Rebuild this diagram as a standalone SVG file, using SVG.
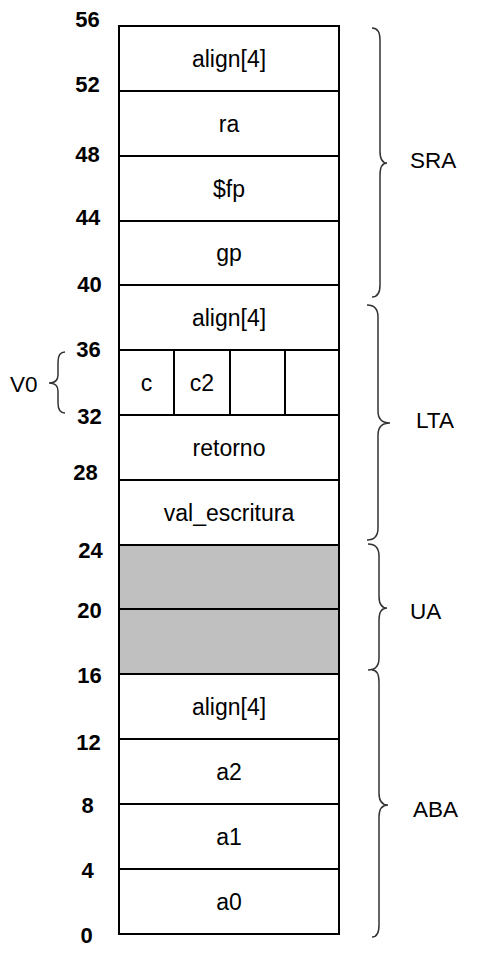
<svg xmlns="http://www.w3.org/2000/svg" width="487" height="965" viewBox="0 0 487 965">
<style>
.cell{fill:#fff;stroke:#000;stroke-width:2}
.gray{fill:#c0c0c0;stroke:#000;stroke-width:2}
.div{stroke:#000;stroke-width:2;fill:none}
.t{font-family:"Liberation Sans",Arial,sans-serif;font-size:23px;fill:#000;text-anchor:middle}
.n{font-family:"Liberation Sans",Arial,sans-serif;font-size:22px;font-weight:bold;fill:#000;text-anchor:middle}
.lab{font-family:"Liberation Sans",Arial,sans-serif;font-size:22.5px;fill:#000}
.brace{fill:none;stroke:#333;stroke-width:1.5}
</style>
<rect width="487" height="965" fill="#fff"/>
<g id="cells">
<g id="r56"><rect class="cell" x="119" y="26" width="220" height="65"/><text class="t" x="229" y="66.5">align[4]</text></g>
<g id="r52"><rect class="cell" x="119" y="91" width="220" height="65"/><text class="t" x="229" y="131.5">ra</text></g>
<g id="r48"><rect class="cell" x="119" y="156" width="220" height="65"/><text class="t" x="229" y="196.5">$fp</text></g>
<g id="r44"><rect class="cell" x="119" y="221" width="220" height="64"/><text class="t" x="229" y="261">gp</text></g>
<g id="r40"><rect class="cell" x="119" y="285" width="220" height="65"/><text class="t" x="229" y="325.5">align[4]</text></g>
<g id="r36"><rect class="cell" x="119" y="350" width="220" height="65"/>
<line class="div" x1="174" y1="350" x2="174" y2="415"/><line class="div" x1="230" y1="350" x2="230" y2="415"/><line class="div" x1="285" y1="350" x2="285" y2="415"/>
<text class="t" x="146.5" y="390.5">c</text><text class="t" x="202" y="390.5">c2</text></g>
<g id="r32"><rect class="cell" x="119" y="415" width="220" height="65"/><text class="t" x="229" y="455.5">retorno</text></g>
<g id="r28"><rect class="cell" x="119" y="480" width="220" height="65"/><text class="t" x="229" y="520.5">val_escritura</text></g>
<g id="r24"><rect class="gray" x="119" y="545" width="220" height="64"/></g>
<g id="r20"><rect class="gray" x="119" y="609" width="220" height="65"/></g>
<g id="r16"><rect class="cell" x="119" y="674" width="220" height="65"/><text class="t" x="229" y="714.5">align[4]</text></g>
<g id="r12"><rect class="cell" x="119" y="739" width="220" height="65"/><text class="t" x="229" y="779.5">a2</text></g>
<g id="r8"><rect class="cell" x="119" y="804" width="220" height="65"/><text class="t" x="229" y="844.5">a1</text></g>
<g id="r4"><rect class="cell" x="119" y="869" width="220" height="65"/><text class="t" x="229" y="909.5">a0</text></g>
</g>
<g id="offsets">
<text class="n" x="87.5" y="27">56</text>
<text class="n" x="87.5" y="92">52</text>
<text class="n" x="87.5" y="162">48</text>
<text class="n" x="88" y="225">44</text>
<text class="n" x="89.5" y="292">40</text>
<text class="n" x="88.5" y="357">36</text>
<text class="n" x="89.5" y="424">32</text>
<text class="n" x="85.5" y="480">28</text>
<text class="n" x="90.5" y="558">24</text>
<text class="n" x="89.5" y="618">20</text>
<text class="n" x="89.5" y="683">16</text>
<text class="n" x="88.5" y="750">12</text>
<text class="n" x="87.5" y="813">8</text>
<text class="n" x="87.5" y="878">4</text>
<text class="n" x="86.5" y="943">0</text>
</g>
<g id="connectors">
<path class="brace" d="M372,28 Q380,28 380,40 L380,151 Q380,163 387,163 Q380,163 380,175 L380,285 Q380,297 372,297"/>
<path class="brace" d="M367,305 Q378,305 378,317 L378,411 Q378,423 390,423 Q378,423 378,435 L378,528 Q378,540 367,540"/>
<path class="brace" d="M368,544 Q379,544 379,556 L379,596 Q379,608 387,608 Q379,608 379,620 L379,658 Q379,670 368,670"/>
<path class="brace" d="M372,670 Q379,670 379,682 L379,793 Q379,805 388,805 Q379,805 379,817 L379,925 Q379,937 372,937"/>
<path class="brace" d="M65,352 Q58,352 58,362 L58,375 Q58,383 49,383 Q58,383 58,391 L58,403 Q58,413 65,413"/>
</g>
<g id="labels">
<text class="lab" x="410" y="168">SRA</text>
<text class="lab" x="416" y="428">LTA</text>
<text class="lab" x="410" y="619">UA</text>
<text class="lab" x="413" y="817">ABA</text>
<text class="lab" x="10" y="392">V0</text>
</g>
</svg>
